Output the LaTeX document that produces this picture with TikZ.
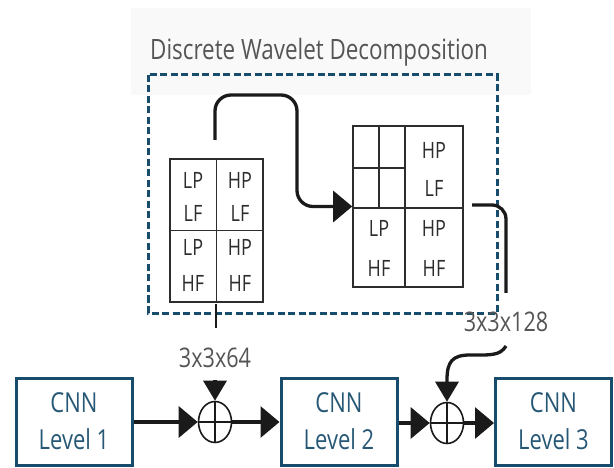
\documentclass[tikz,border=0pt]{standalone}
\usepackage{fontspec}
\setmainfont{Open Sans}[FakeStretch=0.8]
\usetikzlibrary{arrows.meta,shapes.geometric}
\definecolor{dwblue}{RGB}{24,76,108}
\definecolor{txtblue}{RGB}{38,88,118}
\definecolor{txtgray}{RGB}{85,85,85}
\definecolor{gridgray}{RGB}{45,45,45}
\definecolor{linecol}{RGB}{26,26,26}
\begin{document}
\begin{tikzpicture}[x=1pt,y=-1pt,
  cnnbox/.style={draw=dwblue, line width=3pt, minimum width=116pt, minimum height=87pt,
    inner sep=0pt, align=center, text=txtblue, font=\fontsize{27.5}{37}\selectfont},
  gridbox/.style={draw=gridgray, line width=1.6pt, inner sep=0pt},
  gridtxt/.style={text=gridgray, font=\fontsize{22.5}{22}\selectfont, inner sep=0pt},
  lbl/.style={text=txtgray, font=\fontsize{27}{27}\selectfont, inner sep=0pt},
  sumnode/.style={draw=linecol, ellipse, line width=1.6pt, minimum width=33pt, minimum height=41pt, inner sep=0pt},
  line/.style={draw=linecol, line width=3.3pt},
  hconn/.style={line, -{Triangle[length=19pt,width=31pt]}},
  vconn/.style={line, -{Triangle[length=20pt,width=23pt]}},
  dwbox/.style={draw=dwblue, line width=3pt, dash pattern=on 7pt off 3.5pt}
]
\useasboundingbox (0,0) rectangle (614,468);
\fill[black!2.5] (131,8) rectangle (531,95);

% title
\node[anchor=base west, text=txtgray, font=\fontsize{28}{28}\selectfont, inner sep=0pt] (title) at (150,60) {Discrete Wavelet Decomposition};

% dashed box
\draw[dwbox] (148,75) rectangle (497,313);

% left grid
\node[gridbox, minimum width=93pt, minimum height=143pt] (g1) at (216.5,230.5) {};
\draw[gridgray, line width=1.6pt] (g1.north) -- (g1.south) (g1.west) -- (g1.east);
\node[gridtxt] (g1a) at (193,180) {LP};
\node[gridtxt] (g1b) at (193,213) {LF};
\node[gridtxt] (g1c) at (240,180) {HP};
\node[gridtxt] (g1d) at (240,213) {LF};
\node[gridtxt] (g1e) at (193,247) {LP};
\node[gridtxt] (g1f) at (193,283) {HF};
\node[gridtxt] (g1g) at (240,247) {HP};
\node[gridtxt] (g1h) at (240,283) {HF};

% right grid
\node[gridbox, minimum width=110pt, minimum height=161pt] (g2) at (408,206.5) {};
\draw[gridgray, line width=1.6pt] (405,126) -- (405,287) (353,208) -- (463,208)
  (379,126) -- (379,208) (353,168) -- (405,168);
\node[gridtxt] (g2a) at (434,150) {HP};
\node[gridtxt] (g2b) at (434,188) {LF};
\node[gridtxt] (g2c) at (379,228) {LP};
\node[gridtxt] (g2d) at (379,268) {HF};
\node[gridtxt] (g2e) at (434,228) {HP};
\node[gridtxt] (g2f) at (434,268) {HF};

% connectors in DWT
\coordinate (s1) at (215,140);
\draw[hconn, rounded corners=16pt] (s1) |- (297,95) |- (g2.west);
\coordinate (s2) at (472,205);
\coordinate (e2) at (506,293);
\draw[line, rounded corners=14pt] (s2) -| (e2);

% labels
\node[lbl] (l64) at (215,358) {3x3x64};
\node[lbl] (l128) at (506,322) {3x3x128};
\coordinate (t1) at (216,304);
\coordinate (t2) at (216,328);
\draw[line, line width=2.5pt] (t1) -- (t2);

% bottom row
\node[cnnbox] (b1) at (74,421.5) {CNN\\Level 1};
\node[cnnbox] (b2) at (339,421.5) {CNN\\Level 2};
\node[cnnbox] (b3) at (553.5,421.5) {CNN\\Level 3};

\node[sumnode] (c1) at (215,422) {};
\draw[linecol, line width=1.6pt] (c1.north) -- (c1.south) (c1.west) -- (c1.east);
\node[sumnode] (c2) at (447,423) {};
\draw[linecol, line width=1.6pt] (c2.north) -- (c2.south) (c2.west) -- (c2.east);

\draw[hconn] (b1.east |- c1.west) -- (c1.west);
\draw[hconn] (c1.east) -- (b2.west |- c1.east);
\draw[hconn] (b2.east |- c2.west) -- (c2.west);
\draw[hconn] (c2.east) -- (b3.west |- c2.east);

\coordinate (a1) at (215,380);
\draw[vconn] (a1) -- (c1.north);
\coordinate (s3) at (506,346);
\draw[vconn] (s3) .. controls (500,356) and (490,355) .. (470,355)
  .. controls (452,355) and (447,362) .. (447,380) -- (c2.north);
\end{tikzpicture}
\end{document}
